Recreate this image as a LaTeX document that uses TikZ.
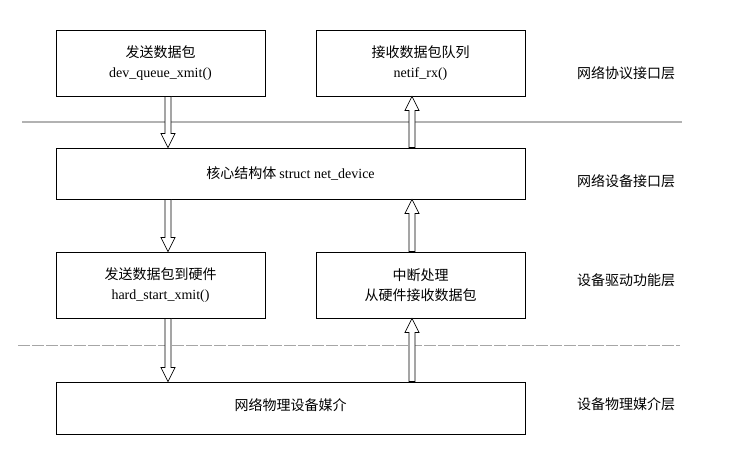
\documentclass[tikz,border=0pt]{standalone}
\usepackage{fontspec}
\setmainfont{Liberation Serif}
\newfontfamily\cjk{Noto Sans CJK SC}
\usetikzlibrary{calc}
\tikzset{
 box/.style={draw, line width=0.9pt, inner sep=0pt, align=center, font=\cjk\fontsize{14}{20}\selectfont},
 lbl/.style={font=\cjk\fontsize{14}{16}\selectfont},
 harrow/.style={draw, fill=white, line width=0.7pt}
}
\newcommand\arrdown[2]{\path[harrow] let \p1=(#1), \p2=(#2) in
 ({\x1-3pt},\y1) -- ({\x1-3pt},{\y2+14pt}) -- ({\x1-7pt},{\y2+14pt}) -- (\x1,\y2) -- ({\x1+7pt},{\y2+14pt}) -- ({\x1+3pt},{\y2+14pt}) -- ({\x1+3pt},\y1) -- cycle;}
\newcommand\arrup[2]{\path[harrow] let \p1=(#1), \p2=(#2) in
 ({\x1-3pt},\y1) -- ({\x1-3pt},{\y2-14pt}) -- ({\x1-7pt},{\y2-14pt}) -- (\x1,\y2) -- ({\x1+7pt},{\y2-14pt}) -- ({\x1+3pt},{\y2-14pt}) -- ({\x1+3pt},\y1) -- cycle;}
\begin{document}
\begin{tikzpicture}[x=1pt,y=-1pt]
\useasboundingbox (0,0) rectangle (752,457);
\node[box, minimum width=209pt, minimum height=66pt] (A) at (160.5,63) {发送数据包\\{\rmfamily dev\_queue\_xmit()}};
\node[box, minimum width=209pt, minimum height=66pt] (B) at (420.5,63) {接收数据包队列\\{\rmfamily netif\_rx()}};
\node[box, minimum width=469pt, minimum height=51pt] (C) at (290.5,173.5) {核心结构体 {\rmfamily struct net\_device}};
\node[box, minimum width=209pt, minimum height=66pt] (D) at (160.5,285) {发送数据包到硬件\\{\rmfamily hard\_start\_xmit()}};
\node[box, minimum width=209pt, minimum height=66pt] (E) at (420.5,285) {中断处理\\从硬件接收数据包};
\node[box, minimum width=469pt, minimum height=52pt] (F) at (290.5,408) {\raisebox{6pt}{网络物理设备媒介}};
\node[lbl] (L1) at (626,73) {网络协议接口层};
\node[lbl] (L2) at (626,181) {网络设备接口层};
\node[lbl] (L3) at (626,280) {设备驱动功能层};
\node[lbl] (L4) at (626,404) {设备物理媒介层};
\coordinate (s1) at (22,122); \coordinate (e1) at (682,122);
\coordinate (s2) at (18,345); \coordinate (e2) at (680,345);
\draw[gray!60, line width=1.5pt] (s1) -- (e1);
\draw[gray!70, line width=1pt, dash pattern=on 12pt off 2pt] (s2) -- (e2);
\coordinate (lx) at (168,0); \coordinate (rx) at (412,0);
\arrdown{A.south -| lx}{C.north -| lx}
\arrdown{C.south -| lx}{D.north -| lx}
\arrdown{D.south -| lx}{F.north -| lx}
\arrup{C.north -| rx}{B.south -| rx}
\arrup{E.north -| rx}{C.south -| rx}
\arrup{F.north -| rx}{E.south -| rx}
\end{tikzpicture}
\end{document}
